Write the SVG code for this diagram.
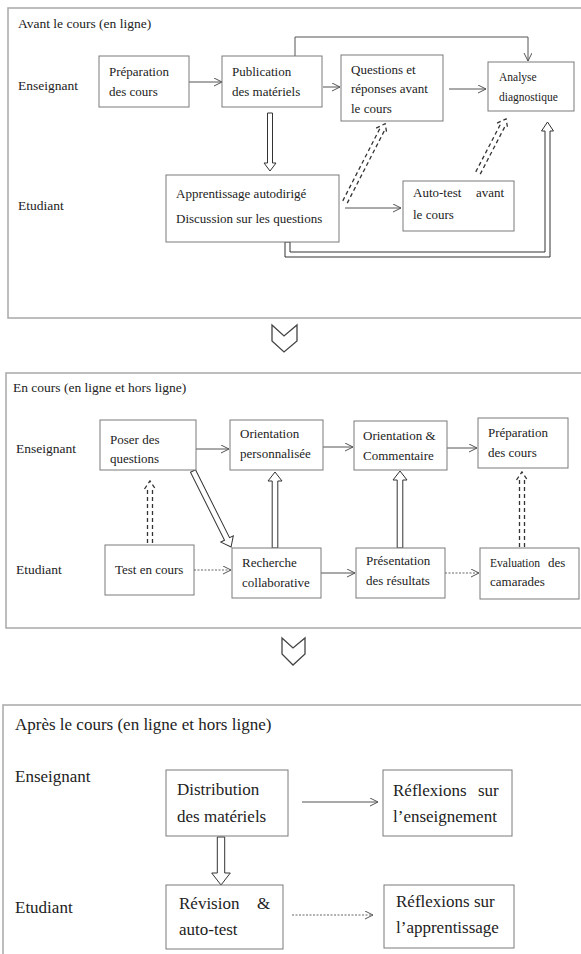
<svg xmlns="http://www.w3.org/2000/svg" width="581" height="954" viewBox="0 0 581 954">
<style>
text{font-family:"Liberation Serif","DejaVu Serif","Noto Serif",Tinos,Times,serif;fill:#222;}
.s1{font-size:13px;}
.s1l{font-size:13.5px;}
.s1s{font-size:11.5px;}
.s2{font-size:13px;}
.s2l{font-size:13.5px;}
.s3{font-size:17px;}
.frame{fill:none;stroke:#a8a8a8;stroke-width:1.5;}
.box{fill:#fff;stroke:#7a7a7a;stroke-width:1;}
.ln{fill:none;stroke:#555;stroke-width:1;}
.dot{fill:none;stroke:#666;stroke-width:1;stroke-dasharray:2 1.5;}
.hol{fill:#fff;stroke:#333;stroke-width:1;}
.dsh{fill:none;stroke:#333;stroke-width:1.3;stroke-dasharray:4 3;}
.chev{fill:#fff;stroke:#444;stroke-width:1.3;stroke-linejoin:miter;}
</style>
<defs>
<marker id="ah" markerUnits="userSpaceOnUse" markerWidth="10" markerHeight="10" refX="8" refY="4" orient="auto">
<path d="M0,0 L8,4 L0,8" fill="none" stroke="#555" stroke-width="1"/>
</marker>
</defs>
<rect width="581" height="954" fill="#fff"/>

<g id="frames">
<rect class="frame" x="8" y="8" width="580" height="310"/>
<rect class="frame" x="6" y="373" width="580" height="255"/>
<rect class="frame" x="3" y="705" width="585" height="262"/>
<path class="chev" d="M272,325 L284,336 L297,325 L297,341 L284,352 L272,341 Z"/>
<path class="chev" d="M282,638 L293,648 L305,638 L305,654 L293,665 L282,654 Z"/>
</g>

<g id="labels">
<text class="s1l" x="18" y="28">Avant le cours (en ligne)</text>
<text class="s1l" x="18" y="90">Enseignant</text>
<text class="s1l" x="18" y="210">Etudiant</text>
<text class="s2l" x="13" y="392">En cours (en ligne et hors ligne)</text>
<text class="s2l" x="16" y="453">Enseignant</text>
<text class="s2l" x="16" y="574">Etudiant</text>
<text class="s3" x="15" y="730">Après le cours (en ligne et hors ligne)</text>
<text class="s3" x="15" y="782">Enseignant</text>
<text class="s3" x="15" y="913">Etudiant</text>
</g>

<g id="connectors">
<line class="ln" x1="189" y1="82" x2="222" y2="82" marker-end="url(#ah)"/>
<path class="ln" d="M295,56 V37 H528 V61" marker-end="url(#ah)"/>
<line class="ln" x1="323" y1="87" x2="340" y2="87" marker-end="url(#ah)"/>
<line class="ln" x1="449" y1="89" x2="486" y2="89" marker-end="url(#ah)"/>
<line class="ln" x1="345" y1="208" x2="401" y2="208" marker-end="url(#ah)"/>
<g transform="translate(270,113) rotate(90)"><path class="hol" d="M0,-2.5 H50 V-6 L58,0 L50,6 V2.5 H0 Z"/></g>
<g transform="translate(345,202) rotate(-62.85)"><path class="dsh" d="M0,-2.5 H82 M0,2.5 H82 M80,-6 L88,0 L80,6"/></g>
<g transform="translate(478,173) rotate(-62.6)"><path class="dsh" d="M0,-2.5 H55 M0,2.5 H55 M53,-6 L61,0 L53,6"/></g>
<path class="hol" d="M285,242 V257 H550 V131 H553.5 L547.5,122 L541.5,131 H545 V252 H290 V242 Z"/>
<line class="ln" x1="196" y1="449" x2="229" y2="449" marker-end="url(#ah)"/>
<line class="ln" x1="323" y1="447" x2="353" y2="447" marker-end="url(#ah)"/>
<line class="ln" x1="447" y1="448" x2="477" y2="448" marker-end="url(#ah)"/>
<line class="dot" x1="194" y1="570" x2="231" y2="570" marker-end="url(#ah)"/>
<line class="ln" x1="321" y1="573" x2="355" y2="573" marker-end="url(#ah)"/>
<line class="dot" x1="445" y1="573" x2="479" y2="573" marker-end="url(#ah)"/>
<g transform="translate(150,543) rotate(-90)"><path class="dsh" d="M0,-2.5 H56 M0,2.5 H56 M54,-5.5 L62,0 L54,5.5"/></g>
<g transform="translate(522,547) rotate(-90)"><path class="dsh" d="M0,-2.5 H69 M0,2.5 H69 M67,-5.5 L75,0 L67,5.5"/></g>
<g transform="translate(193,471) rotate(63.4)"><path class="hol" d="M0,-2.8 H76 V-7 L85,0 L76,7 V2.8 H0 Z"/></g>
<g transform="translate(275,548) rotate(-90)"><path class="hol" d="M0,-2.8 H67 V-7 L76,0 L67,7 V2.8 H0 Z"/></g>
<g transform="translate(400,548) rotate(-90)"><path class="hol" d="M0,-2.8 H68 V-7 L77,0 L68,7 V2.8 H0 Z"/></g>
<line class="ln" x1="302" y1="802" x2="378" y2="802" marker-end="url(#ah)"/>
<line class="dot" x1="292" y1="915" x2="373" y2="915" marker-end="url(#ah)"/>
<g transform="translate(221,837) rotate(90)"><path class="hol" d="M0,-3.7 H36 V-9.3 L48,0 L36,9.3 V3.7 H0 Z"/></g>
</g>

<g id="n-prep1">
<rect class="box" x="99" y="56" width="90" height="51"/>
<text class="s1" x="109" y="76">Préparation</text>
<text class="s1" x="109" y="96">des cours</text>
</g>
<g id="n-pub">
<rect class="box" x="222" y="56" width="100" height="51"/>
<text class="s1" x="232" y="76">Publication</text>
<text class="s1" x="232" y="96">des matériels</text>
</g>
<g id="n-qr">
<rect class="box" x="341" y="55" width="102" height="66"/>
<text class="s1" x="351" y="74">Questions et</text>
<text class="s1" x="351" y="93">réponses avant</text>
<text class="s1" x="351" y="113">le cours</text>
</g>
<g id="n-analyse">
<rect class="box" x="488" y="62" width="86" height="49"/>
<text class="s1s" x="499" y="81">Analyse</text>
<text class="s1s" x="499" y="101">diagnostique</text>
</g>
<g id="n-appr">
<rect class="box" x="166" y="175" width="173" height="67"/>
<text class="s1" x="176" y="198">Apprentissage autodirigé</text>
<text class="s1" x="176" y="223">Discussion sur les questions</text>
</g>
<g id="n-autotest">
<rect class="box" x="403" y="181" width="111" height="50"/>
<text class="s1" x="413" y="197">Auto-test</text>
<text class="s1" x="476" y="197">avant</text>
<text class="s1" x="413" y="219">le cours</text>
</g>

<g id="n-poser">
<rect class="box" x="100" y="420" width="96" height="50"/>
<text class="s2" x="110" y="444">Poser des</text>
<text class="s2" x="110" y="463">questions</text>
</g>
<g id="n-orpers">
<rect class="box" x="230" y="420" width="93" height="50"/>
<text class="s2" x="240" y="438">Orientation</text>
<text class="s2" x="240" y="458">personnalisée</text>
</g>
<g id="n-orcom">
<rect class="box" x="354" y="421" width="93" height="49"/>
<text class="s2" x="363" y="440">Orientation &amp;</text>
<text class="s2" x="363" y="460">Commentaire</text>
</g>
<g id="n-prep2">
<rect class="box" x="478" y="418" width="90" height="50"/>
<text class="s2" x="488" y="437">Préparation</text>
<text class="s2" x="488" y="457">des cours</text>
</g>
<g id="n-test">
<rect class="box" x="105" y="545" width="89" height="50"/>
<text class="s2" x="115" y="574">Test en cours</text>
</g>
<g id="n-rech">
<rect class="box" x="232" y="548" width="89" height="50"/>
<text class="s2" x="242" y="567">Recherche</text>
<text class="s2" x="242" y="587">collaborative</text>
</g>
<g id="n-pres">
<rect class="box" x="356" y="548" width="89" height="50"/>
<text class="s2" x="366" y="565">Présentation</text>
<text class="s2" x="366" y="585">des résultats</text>
</g>
<g id="n-eval">
<rect class="box" x="480" y="548" width="99" height="51"/>
<text class="s2" x="490" y="567" textLength="50" lengthAdjust="spacingAndGlyphs">Evaluation</text>
<text class="s2" x="548" y="567">des</text>
<text class="s2" x="490" y="586">camarades</text>
</g>

<g id="n-distr">
<rect class="box" x="166" y="770" width="122" height="66"/>
<text class="s3" x="177" y="795">Distribution</text>
<text class="s3" x="177" y="822">des matériels</text>
</g>
<g id="n-refl-ens">
<rect class="box" x="383" y="770" width="129" height="66"/>
<text class="s3" x="393" y="796">Réflexions</text>
<text class="s3" x="478" y="796">sur</text>
<text class="s3" x="393" y="822">l’enseignement</text>
</g>
<g id="n-revision">
<rect class="box" x="166" y="885" width="117" height="64"/>
<text class="s3" x="179" y="909">Révision</text>
<text class="s3" x="257" y="909">&amp;</text>
<text class="s3" x="179" y="935">auto-test</text>
</g>
<g id="n-refl-app">
<rect class="box" x="384" y="885" width="130" height="63"/>
<text class="s3" x="396" y="907">Réflexions sur</text>
<text class="s3" x="396" y="933">l’apprentissage</text>
</g>
</svg>
